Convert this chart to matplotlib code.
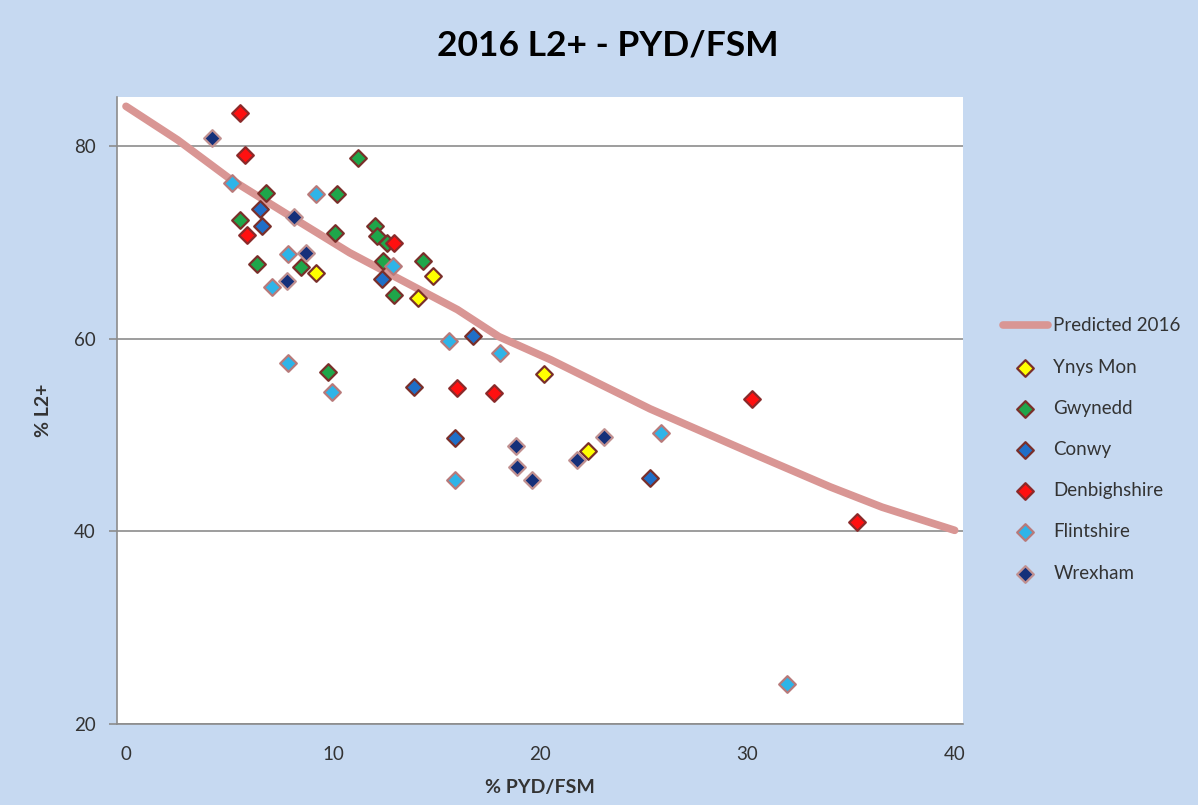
import matplotlib.pyplot as plt

plt.rcParams['font.family'] = ['Lato', 'DejaVu Sans']

# predicted curve
pred_x = [0, 2.5, 5, 8, 10.8, 13, 16, 18, 20.5, 25.3, 30.1, 34, 36.5, 40]
pred_y = [84.1, 80.6, 76.6, 72.6, 68.9, 66.4, 63.0, 60.2, 57.8, 52.7, 48.2, 44.6, 42.5, 40.1]

# schools by authority: % PYD/FSM, % L2+
ynys_x = [9.16, 14.1, 14.83, 20.19, 22.28]
ynys_y = [66.85, 64.2, 66.5, 56.3, 48.3]

gwynedd_x = [11.21, 6.74, 10.2, 5.5, 10.09, 12.02, 12.1, 12.58, 12.39, 12.93, 14.32, 6.31, 8.45, 9.76]
gwynedd_y = [78.7, 75.1, 75.0, 72.3, 71.0, 71.7, 70.6, 69.95, 68.1, 64.5, 68.0, 67.7, 67.4, 56.5]

conwy_x = [6.47, 6.55, 12.34, 16.73, 13.9, 15.88, 25.29]
conwy_y = [73.4, 71.7, 66.15, 60.3, 55.0, 49.7, 45.5]

denbigh_x = [5.5, 5.74, 5.85, 12.95, 15.96, 17.78, 30.2, 35.3]
denbigh_y = [83.4, 79.0, 70.7, 69.95, 54.85, 54.3, 53.75, 40.96]

flint_x = [5.1, 9.16, 7.83, 12.87, 7.06, 15.6, 18.05, 7.83, 9.93, 15.88, 25.82, 31.93]
flint_y = [76.1, 75.0, 68.8, 67.5, 65.4, 59.7, 58.55, 57.45, 54.45, 45.35, 50.2, 24.2]

wrex_x = [4.14, 8.12, 8.69, 7.76, 18.82, 18.89, 19.58, 21.75, 23.07]
wrex_y = [80.8, 72.6, 68.85, 66.0, 48.9, 46.7, 45.35, 47.4, 49.8]

bg = '#c6d9f1'
fig = plt.figure(figsize=(11.98, 8.05), dpi=100, facecolor=bg)
ax = fig.add_axes([0.0974, 0.1006, 0.7064, 0.7793])
ax.set_facecolor('white')

ax.plot(pred_x, pred_y, color='#d99694', lw=5.5, solid_capstyle='round',
        label='Predicted 2016', zorder=2)

series = [
    (ynys_x, ynys_y, 'Ynys Mon', '#ffff00', '#7a2f2a'),
    (gwynedd_x, gwynedd_y, 'Gwynedd', '#1fa64a', '#7a2f2a'),
    (conwy_x, conwy_y, 'Conwy', '#1f6fc8', '#7a2f2a'),
    (denbigh_x, denbigh_y, 'Denbighshire', '#ff1010', '#8a2a2a'),
    (flint_x, flint_y, 'Flintshire', '#2eb4e8', '#b87a7a'),
    (wrex_x, wrex_y, 'Wrexham', '#15307a', '#c09090'),
]
for xs, ys, name, fc, ec in series:
    ax.scatter(xs, ys, marker='D', s=72, c=fc, edgecolors=ec, linewidths=1.6,
               label=name, zorder=3)

ax.set_xlim(-0.45, 40.4)
ax.set_ylim(20, 85.1)
ax.set_xticks([0, 10, 20, 30, 40])
ax.set_yticks([20, 40, 60, 80])
ax.grid(axis='y', color='#8c8c8c', lw=1.2)
ax.set_axisbelow(True)
for s in ['top', 'right']:
    ax.spines[s].set_visible(False)
for s in ['left', 'bottom']:
    ax.spines[s].set_color('#8c8c8c')
    ax.spines[s].set_linewidth(1.2)
ax.tick_params(axis='y', length=6, width=1.2, color='#8c8c8c', labelsize=13.5,
               labelcolor='#333333', pad=9)
ax.tick_params(axis='x', length=0, labelsize=13.5, labelcolor='#333333', pad=16)

ax.set_xlabel('% PYD/FSM', fontsize=14, fontweight='bold', color='#333333', labelpad=11)
ax.set_ylabel('% L2+', fontsize=14, fontweight='bold', color='#333333', labelpad=16)

fig.text(0.507, 0.944, '2016 L2+ - PYD/FSM', ha='center', va='center',
         fontsize=25.5, fontweight='bold', color='black')

fig.legend(loc='center left', bbox_to_anchor=(0.837, 0.4416), frameon=False,
           fontsize=13.5, labelcolor='#333333', handlelength=2.4, handletextpad=0.3,
           labelspacing=1.29, borderpad=0, borderaxespad=0)

fig.savefig('out.png', dpi=100, facecolor=bg)
